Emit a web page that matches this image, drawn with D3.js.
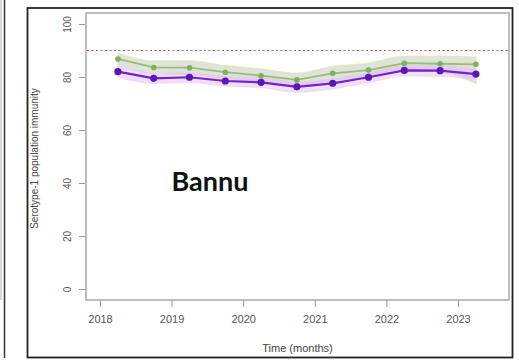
<!DOCTYPE html>
<html>
<head>
<meta charset="utf-8">
<script src="https://cdn.jsdelivr.net/npm/d3@7"></script>
<style>
  html, body { margin: 0; padding: 0; background: #fff; }
  svg { display: block; }
</style>
</head>
<body>
<svg id="chart" width="519" height="364"></svg>
<script>
// Serotype-1 population immunity, Bannu district, half-yearly estimates
const times = [2018.25, 2018.75, 2019.25, 2019.75, 2020.25, 2020.75, 2021.25, 2021.75, 2022.25, 2022.75, 2023.25];
const immunityPurple = [82.0, 79.5, 79.9, 78.5, 78.0, 76.3, 77.6, 79.9, 82.5, 82.4, 81.1];
const purpleLow  = [80.0, 77.6, 78.0, 76.6, 76.0, 74.3, 75.6, 77.9, 80.5, 80.3, 78.9];
const purpleHigh = [84.0, 81.4, 81.8, 80.4, 80.0, 78.3, 79.6, 81.9, 84.5, 84.5, 83.3];
const immunityGreen = [86.8, 83.6, 83.5, 81.8, 80.5, 78.9, 81.4, 82.6, 85.2, 85.0, 84.8];
const greenLow  = [84.2, 81.2, 81.0, 79.3, 78.0, 76.4, 78.8, 80.0, 82.6, 82.0, 77.5];
const greenHigh = [89.0, 86.0, 86.0, 84.3, 83.0, 81.4, 84.0, 85.2, 87.8, 87.8, 87.5];
const targetLevel = 90;
const yearTicks = [2018, 2019, 2020, 2021, 2022, 2023];
const immunityTicks = [0, 20, 40, 60, 80, 100];
const districtName = "Bannu";

const svg = d3.select("#chart");

// plot box and scales
const box = { left: 86, right: 509, top: 13, bottom: 300 };
const x = d3.scaleLinear().domain([2018, 2023]).range([100, 458]);
const y = d3.scaleLinear().domain([0, 100]).range([289, 24]);

// left neighbouring panel edge
svg.append("line").attr("x1", 1).attr("x2", 1).attr("y1", 0).attr("y2", 300)
  .attr("stroke", "#b0b0b0").attr("stroke-width", 1);
svg.append("line").attr("x1", 4.5).attr("x2", 4.5).attr("y1", 0).attr("y2", 358)
  .attr("stroke", "#333").attr("stroke-width", 1.5);

// outer frame
svg.append("rect").attr("x", 27.5).attr("y", 8).attr("width", 485).attr("height", 349.5)
  .attr("fill", "none").attr("stroke", "#222").attr("stroke-width", 1.8);

// plot box
svg.append("rect").attr("x", box.left).attr("y", box.top)
  .attr("width", box.right - box.left).attr("height", box.bottom - box.top)
  .attr("fill", "none").attr("stroke", "#a8a8a8").attr("stroke-width", 1.5);

// axes
const xAxis = d3.axisBottom(x).tickValues(yearTicks).tickFormat(d3.format("d"))
  .tickSize(7).tickSizeOuter(0).tickPadding(8);
const gx = svg.append("g").attr("transform", `translate(0,${box.bottom})`).call(xAxis);
gx.select(".domain").remove();
gx.selectAll(".tick line").attr("stroke", "#9a9a9a");
gx.selectAll(".tick text").attr("fill", "#555").style("font", "11px 'Liberation Sans', Arial, sans-serif");

const yAxis = d3.axisLeft(y).tickValues(immunityTicks).tickSize(6).tickSizeOuter(0).tickPadding(0);
const gy = svg.append("g").attr("transform", `translate(${box.left - 1},0)`).call(yAxis);
gy.select(".domain").remove();
gy.selectAll(".tick line").attr("stroke", "#9a9a9a");
gy.selectAll(".tick text").attr("fill", "#555")
  .style("font", "10px 'Liberation Sans', Arial, sans-serif")
  .attr("x", null).attr("dy", null)
  .attr("text-anchor", "middle")
  .attr("transform", "translate(-18,0) rotate(-90)")
  .attr("dominant-baseline", "central");

// axis titles
svg.append("text").attr("x", (box.left + box.right) / 2).attr("y", 352)
  .attr("text-anchor", "middle").attr("fill", "#444")
  .style("font", "11px 'Liberation Sans', Arial, sans-serif")
  .text("Time (months)");
svg.append("text").attr("transform", `translate(38,${(box.top + box.bottom) / 2 + 2}) rotate(-90)`)
  .attr("text-anchor", "middle").attr("fill", "#444")
  .style("font", "10px 'Liberation Sans', Arial, sans-serif")
  .text("Serotype-1 population immunity");

// target immunity line
svg.append("line").attr("x1", box.left + 1).attr("x2", box.right - 1)
  .attr("y1", y(targetLevel)).attr("y2", y(targetLevel))
  .attr("stroke", "#c8584f").attr("stroke-width", 1.2).attr("stroke-dasharray", "2,2.5");

const idx = d3.range(times.length);
const band = (lo, hi) => d3.area().curve(d3.curveMonotoneX)
  .x(i => x(times[i])).y0(i => y(lo[i])).y1(i => y(hi[i]));

// uncertainty bands
svg.append("path").datum(idx).attr("d", band(greenLow, greenHigh))
  .attr("fill", "#bdbdb3").attr("fill-opacity", 0.45)
  .attr("stroke", "#d6e8a8").attr("stroke-width", 1.5).attr("stroke-opacity", 0.6);
svg.append("path").datum(idx).attr("d", band(purpleLow, purpleHigh))
  .attr("fill", "#e2b8ee").attr("fill-opacity", 0.45)
  .attr("stroke", "#efd0f2").attr("stroke-width", 1.5).attr("stroke-opacity", 0.6);

// green series
const lineOf = vals => d3.line().x(i => x(times[i])).y(i => y(vals[i]));
svg.append("path").datum(idx).attr("d", lineOf(immunityGreen))
  .attr("fill", "none").attr("stroke", "#8fc46a").attr("stroke-width", 1.8);
svg.selectAll(".pt-green").data(idx).enter().append("circle")
  .attr("class", "pt-green")
  .attr("cx", i => x(times[i])).attr("cy", i => y(immunityGreen[i])).attr("r", 2.8)
  .attr("fill", "#7fb05c");

// purple series
svg.append("path").datum(idx).attr("d", lineOf(immunityPurple))
  .attr("fill", "none").attr("stroke", "#6f22d6").attr("stroke-width", 2.2);
svg.selectAll(".pt-purple").data(idx).enter().append("circle")
  .attr("class", "pt-purple")
  .attr("cx", i => x(times[i])).attr("cy", i => y(immunityPurple[i])).attr("r", 3.6)
  .attr("fill", "#5b16b8");

// district label
svg.append("text").attr("x", 210).attr("y", 191)
  .attr("text-anchor", "middle").attr("fill", "#111")
  .style("font", "bold 27px Lato, 'Open Sans', sans-serif")
  .text(districtName);
</script>
</body>
</html>
